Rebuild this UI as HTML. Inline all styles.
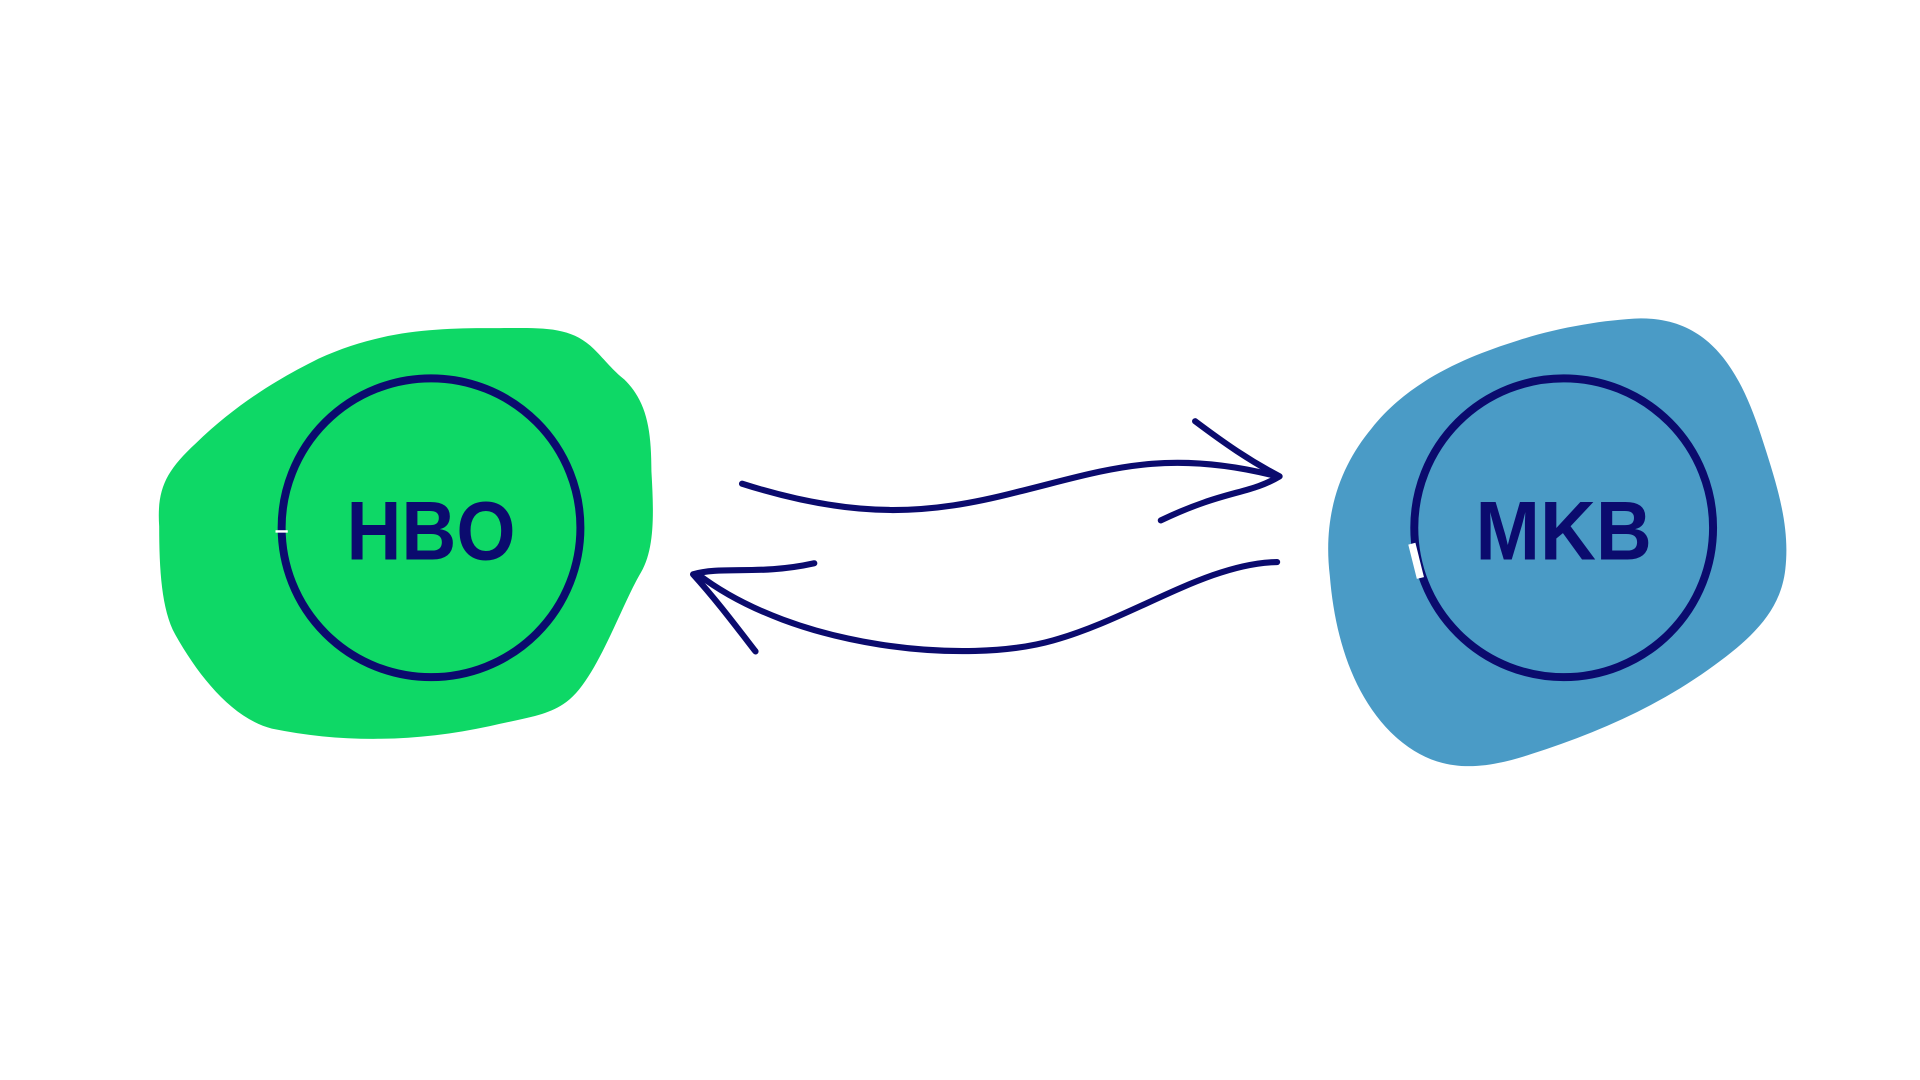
<!DOCTYPE html>
<html><head><style>html,body{margin:0;padding:0;background:#fff;}svg{display:block}</style></head>
<body>
<svg width="1920" height="1080" viewBox="0 0 1568 882" xmlns="http://www.w3.org/2000/svg">
<rect width="1568" height="882" fill="#fff"/>
<path fill="#0ed866" d="M130,430 C128,400 135,385 160,362 C195,328 230,308 260,293 C310,270 355,268 400,268 C440,268 465,265 485,285 C495,295 500,302 510,310 C528,328 532,350 532,385 C534,420 535,450 522,470 C505,500 485,560 460,575 C445,585 425,587 400,593 C340,606 280,607 222,595 C190,587 162,552 143,518 C132,498 130,465 130,430 Z"/>
<path fill="#4a9bc6" d="M1086,470 C1080,420 1095,380 1120,350 C1150,312 1195,292 1240,278 C1270,268 1310,261 1340,260 C1395,260 1420,300 1438,355 C1452,398 1462,430 1458,465 C1454,500 1430,522 1395,547 C1350,579 1300,600 1250,616 C1210,629 1175,633 1140,602 C1105,570 1090,520 1086,470 Z"/>
<g fill="none" stroke="#0b0b6e" stroke-linecap="round" stroke-linejoin="round">
<circle cx="352" cy="431" r="122" stroke-width="6.5"/>
<circle cx="1277" cy="431" r="122" stroke-width="6.5"/>
<g stroke-width="5">
<path d="M606,395 C700,425 760,420 830,402 C900,385 950,365 1043,389"/>
<path d="M976,344 C1000,362 1020,376 1045,389 C1020,404 1000,400 948,425"/>
<path d="M1043,459 C985,460 925,505 860,523 C790,543 650,530 570,469"/>
<path d="M665,460 C620,470 590,462 566,469 C585,490 600,510 617,532"/>
</g>
</g>
<line x1="225" y1="434" x2="235" y2="434" stroke="#fff" stroke-width="2"/>
<path d="M1153,444 L1160,472" stroke="#fff" stroke-width="6"/>
<g font-family="'Liberation Sans Narrow','Liberation Sans',sans-serif" font-weight="bold" font-size="68" fill="#0b0b6e" text-anchor="middle">
<text x="352" y="457" textLength="138" lengthAdjust="spacingAndGlyphs">HBO</text>
<text x="1277" y="457" textLength="144" lengthAdjust="spacingAndGlyphs">MKB</text>
</g>
</svg>
</body></html>
